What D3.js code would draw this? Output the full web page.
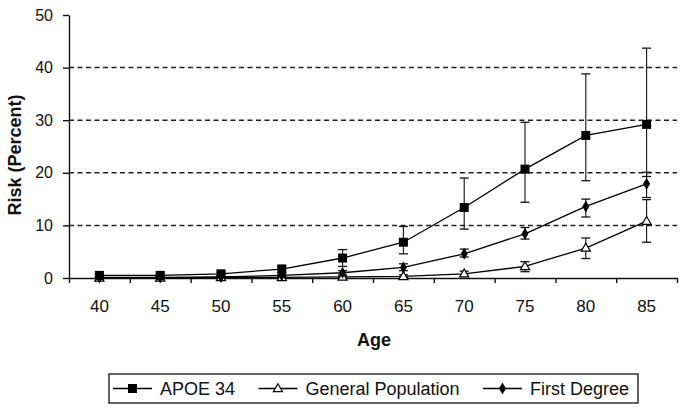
<!DOCTYPE html>
<html>
<head>
<meta charset="utf-8">
<script src="https://cdn.jsdelivr.net/npm/d3@7"></script>
<style>
  body { margin: 0; background: #fff; }
  text { font-family: "Liberation Sans", Arial, sans-serif; fill: #111; }
</style>
</head>
<body>
<div id="chart"></div>
<script>
// values
var ages = ['40', '45', '50', '55', '60', '65', '70', '75', '80', '85'];

var apoe     = [0.5, 0.5, 0.8, 1.7, 3.8, 6.8, 13.4, 20.7, 27.1, 29.2];
var apoeLow  = [0.3, 0.3, 0.5, 1.0, 2.2, 4.6, 9.3, 14.4, 18.5, 19.3];
var apoeHigh = [0.7, 0.7, 1.1, 2.4, 5.4, 9.8, 19.0, 29.6, 38.8, 43.7];

var general     = [0.0, 0.0, 0.1, 0.1, 0.2, 0.3, 0.8, 2.2, 5.7, 10.8];
var generalLow  = [0.0, 0.0, 0.0, 0.0, 0.1, 0.1, 0.3, 1.2, 3.7, 6.8];
var generalHigh = [0.1, 0.1, 0.1, 0.2, 0.4, 0.6, 1.3, 3.1, 7.6, 14.9];

var firstDeg     = [0.1, 0.1, 0.2, 0.5, 1.0, 2.0, 4.6, 8.4, 13.6, 17.9];
var firstDegLow  = [0.1, 0.1, 0.1, 0.3, 0.6, 1.4, 4.0, 7.4, 11.6, 15.3];
var firstDegHigh = [0.2, 0.2, 0.3, 0.7, 1.4, 2.7, 5.5, 9.6, 15.0, 20.1];

var yTicks = [0, 10, 20, 30, 40, 50];
var gridTicks = [10, 20, 30, 40];

var series = [
  {name: 'General Population', vals: general, lo: generalLow, hi: generalHigh, shape: 'triangle'},
  {name: 'First Degree', vals: firstDeg, lo: firstDegLow, hi: firstDegHigh, shape: 'diamond'},
  {name: 'APOE 34', vals: apoe, lo: apoeLow, hi: apoeHigh, shape: 'square'}
];
var legendOrder = ['APOE 34', 'General Population', 'First Degree'];

var W = 685, H = 414;
var plotL = 69, plotR = 677, plotT = 15, plotB = 278;

var svg = d3.select('#chart').append('svg')
  .attr('width', W)
  .attr('height', H);

svg.append('rect').attr('width', W).attr('height', H).attr('fill', '#fff');

var x = d3.scaleBand().domain(ages).range([plotL, plotR]);
var xEdge = d3.scaleLinear().domain([0, ages.length]).range([plotL, plotR]);
var y = d3.scaleLinear().domain([0, 50]).range([plotB, plotT]);

// dashed gridlines
svg.append('g').selectAll('line')
  .data(gridTicks)
  .enter().append('line')
  .attr('x1', plotL).attr('x2', plotR)
  .attr('y1', d => y(d)).attr('y2', d => y(d))
  .attr('stroke', '#222')
  .attr('stroke-width', 1.5)
  .attr('stroke-dasharray', '5,3.5');

// y axis
var yAxis = svg.append('g')
  .attr('transform', 'translate(' + plotL + ',0)')
  .call(d3.axisLeft(y).tickValues(yTicks).tickSize(6).tickSizeOuter(0).tickPadding(10));
yAxis.selectAll('text').style('font-size', '16px').attr('fill', '#111');

// x axis: ticks on category edges
svg.append('g')
  .attr('transform', 'translate(0,' + plotB + ')')
  .call(d3.axisBottom(xEdge).ticks(ages.length).tickFormat('').tickSize(5).tickSizeOuter(0));

// x labels centred in the bands
var xLab = svg.append('g')
  .attr('transform', 'translate(0,' + plotB + ')')
  .call(d3.axisBottom(x).tickSize(0).tickPadding(22));
xLab.select('.domain').remove();
xLab.selectAll('text').style('font-size', '17px').attr('fill', '#111');

svg.selectAll('.domain, .tick line').attr('stroke', '#111').attr('stroke-width', 1.4);

// axis titles
svg.append('text')
  .attr('x', 374).attr('y', 346)
  .attr('text-anchor', 'middle')
  .style('font-size', '18px').style('font-weight', 'bold')
  .text('Age');

svg.append('text')
  .attr('transform', 'translate(21,155) rotate(-90)')
  .attr('text-anchor', 'middle')
  .style('font-size', '18px').style('font-weight', 'bold')
  .text('Risk (Percent)');

var cx = d => x(d) + x.bandwidth() / 2;

function marker(g, shape) {
  if (shape === 'square') {
    g.append('rect').attr('x', -4.5).attr('y', -4.5).attr('width', 9).attr('height', 9).attr('fill', '#000');
  } else if (shape === 'triangle') {
    g.append('path').attr('d', d3.symbol(d3.symbolTriangle, 36)()).attr('transform', 'translate(0,0.5)')
      .attr('fill', '#fff').attr('stroke', '#000').attr('stroke-width', 1.2);
  } else {
    g.append('path').attr('d', d3.symbol(d3.symbolDiamond, 42)()).attr('fill', '#000');
  }
}

// error bars
series.forEach(function(s) {
  var eb = svg.append('g').selectAll('g')
    .data(ages)
    .enter().append('g');
  eb.append('line')
    .attr('x1', d => cx(d)).attr('x2', d => cx(d))
    .attr('y1', (d, i) => y(s.lo[i])).attr('y2', (d, i) => y(s.hi[i]))
    .attr('stroke', '#111').attr('stroke-width', 1.1);
  [s.lo, s.hi].forEach(function(arr) {
    eb.append('line')
      .attr('x1', d => cx(d) - 4.5).attr('x2', d => cx(d) + 4.5)
      .attr('y1', (d, i) => y(arr[i])).attr('y2', (d, i) => y(arr[i]))
      .attr('stroke', '#111').attr('stroke-width', 1.3);
  });
});

// lines
var line = d3.line()
  .x((d, i) => cx(ages[i]))
  .y(d => y(d));

series.forEach(function(s) {
  svg.append('path')
    .datum(s.vals)
    .attr('d', line)
    .attr('fill', 'none')
    .attr('stroke', '#000')
    .attr('stroke-width', 1.3);
});

// markers
series.forEach(function(s) {
  svg.append('g').selectAll('g')
    .data(s.vals)
    .enter().append('g')
    .attr('transform', (d, i) => 'translate(' + cx(ages[i]) + ',' + y(d) + ')')
    .each(function() { marker(d3.select(this), s.shape); });
});

// legend
var legTop = 374, legBot = 403, legL = 109, legR = 638;
var leg = svg.append('g');
leg.append('rect')
  .attr('x', legL).attr('y', legTop)
  .attr('width', legR - legL).attr('height', legBot - legTop)
  .attr('fill', '#fff').attr('stroke', '#111').attr('stroke-width', 1.3);

var items = legendOrder.map(n => series.find(s => s.name === n));
var segLen = 39, txtGap = 8;
var texts = items.map(function(s) {
  return leg.append('text')
    .attr('y', (legTop + legBot) / 2)
    .attr('dy', '0.35em')
    .style('font-size', '18px')
    .text(s.name);
});
var widths = texts.map(t => t.node().getComputedTextLength());
var inner = (legR - 9) - (legL + 4);
var itemGap = (inner - d3.sum(widths) - items.length * (segLen + txtGap)) / (items.length - 1);
var pos = legL + 4;
items.forEach(function(s, i) {
  var my = (legTop + legBot) / 2;
  leg.append('line')
    .attr('x1', pos).attr('x2', pos + segLen)
    .attr('y1', my).attr('y2', my)
    .attr('stroke', '#000').attr('stroke-width', 1.3);
  var m = leg.append('g').attr('transform', 'translate(' + (pos + segLen / 2) + ',' + my + ')');
  marker(m, s.shape);
  texts[i].attr('x', pos + segLen + txtGap);
  pos += segLen + txtGap + widths[i] + itemGap;
});
</script>
</body>
</html>
